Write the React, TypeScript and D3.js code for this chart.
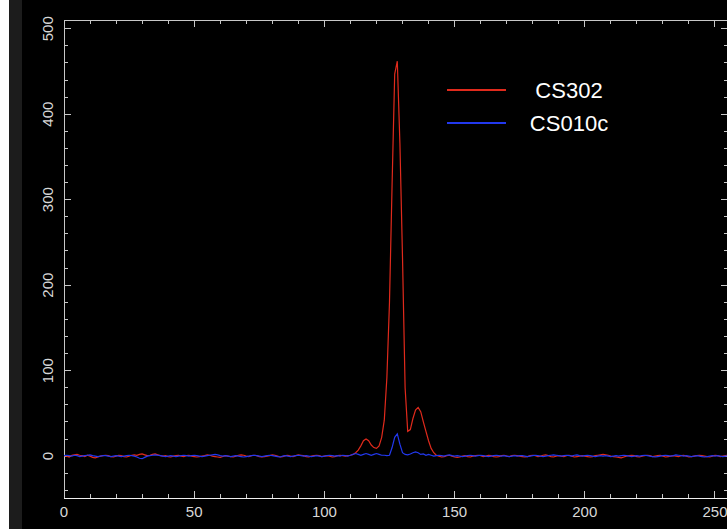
import React from "react";
import * as d3 from "d3";

// Channel counts per bin (bins 0..255)
const cs302: number[] = [
  0.5, 0, -1, 1, 1.5, 2, 1, 0.5, -0.5, 1, 0, -1.5, -2, -1, 0, 0.5,
  1, 0.5, -0.5, -1, 0, 1, 0.5, -0.5, -1, 0, 1, 1.5, 1, 2, 2.5, 1.5,
  0.5, 1, 2, 2.5, 1.5, 0.5, 0, 0.5, -0.5, -1, 0, 0.5, 1, 0, -0.5, 0.5,
  1, 0, -0.5, -1, -0.5, 0, 0.5, 1.5, 1, 0, -0.5, -1, -1.5, -0.5, 0.5, 0,
  -0.5, -1, 0, 1, 1.5, 1, 0, -0.5, 0.5, 1, 0.5, -0.5, -1, -0.5, 0, 0.5,
  1.5, 1, 0, -1, -0.5, 0.5, 1, 0, -0.5, 0.5, 1.5, 1, 0.5, -0.5, -1, 0,
  0.5, 1, 0.5, -0.5, 0, 0.5, 0, -1, -0.5, 0.5, 1, 0.5, 0, 0.5, 1, 2,
  4, 7, 12, 18, 20, 18, 13, 10, 9, 12, 22, 42, 92, 180, 318, 447,
  462, 366, 232, 80, 29, 31, 44, 54, 57, 52, 40, 29, 18, 9, 4, 1,
  0, -1, -0.5, 0.5, 1, 0, -1, -1.5, -1, 0, 0.5, -0.5, -1, 0, 0.5, 1,
  0.5, -0.5, 0, 1, 0.5, -0.5, -1, -0.5, 0.5, 1, 0, -0.5, 0.5, 1, 0.5, 0,
  -0.5, -1, -0.5, 0.5, 1, 0.5, -0.5, 0, 1, 1.5, 0.5, -0.5, -1, 0, 0.5, 0,
  -0.5, 0.5, 1, 0, -1, -0.5, 0, 0.5, 0, -0.5, -1, -0.5, 0.5, 1, 1.5, 2,
  1.5, 1, 0, -0.5, -1, -1.5, -2, -1, 0, 0.5, 1, 0.5, -0.5, -1, 0, 0.5,
  1, 0.5, -0.5, 0, 0.5, 1, 0, -1, -0.5, 0, 0.5, 0, -0.5, 0.5, 1, 0,
  -1, -0.5, 0, 0.5, 1, 0.5, 0, -0.5, -1, 0, 1, 0.5, -0.5, 0, 0.5, 1,
];

const cs010c: number[] = [
  0.5, 1, 0.5, 0, 1, 0.5, -0.5, 0, 0.5, 1, 1.5, 0.5, 0, -0.5, 0, 0.5,
  0.5, 0, -0.5, 0, 0.5, 0, -0.5, 0, 0.5, 1, 0.5, 0, -1, -2.5, -3, -1.5,
  0, 0.5, 1, 1.5, 1, 0.5, 0, -0.5, 0, 0.5, 0, -0.5, 0, 0.5, 1, 0.5,
  0, 0.5, 1, 0.5, 0, -0.5, 0, 0.5, 1, 1.5, 2, 1.5, 0.5, 0, 0.5, 0,
  -0.5, 0, 0.5, 0, -0.5, -1, -0.5, 0, 0.5, 1, 0.5, 0, -0.5, 0, 0.5, 1,
  0.5, 0, -0.5, -1, 0, 0.5, 0, -0.5, 0, 0.5, 1, 0.5, 0, 0.5, 0, -0.5,
  0, 0.5, 0, -0.5, 0, 0.5, 1, 0.5, 0, 0.5, 0, 1, 0.5, 0, 1, 2,
  3, 2, 1, 2, 3, 2, 1, 2, 3, 2, 1, 1, 0.5, 1, 10, 22,
  26, 14, 4, 2, 1.5, 2.5, 4, 5, 4, 2, 2.5, 1, 2, 1, 0, 0.5,
  1, 0.5, 0, 1, 1.5, 0.5, 0, 0.5, 0, -0.5, 0, 0.5, 1, 0.5, 0, 0.5,
  1, 0.5, 0, -0.5, 0, 0.5, 1, 0.5, 0, 0.5, 0, -0.5, 0, 0.5, 0, 0.5,
  0.5, 0, -0.5, 0, 0.5, 1, 0.5, 0, -0.5, 0, 0.5, 1, 1.5, 1, 0.5, 0,
  0.5, 1, 0.5, 0, 1, 1.5, 0.5, 0, 0.5, 1, 0.5, 0, -0.5, 0, 0.5, 0,
  0.5, 0, -0.5, 0, 0.5, 0, 0.5, 1, 0.5, 0, -0.5, 0, 0.5, 0, 0.5, 1,
  0.5, 0, -0.5, -1, -0.5, 0, 0.5, 1, 0.5, 0, 0.5, 1.5, 1, 0.5, 0, 0.5,
  0, -0.5, 0, 0.5, 0, -0.5, -1, -0.5, 0, 0.5, 0, 0.5, 0, -0.5, 0, 0.5,
];

const seriesNames = ["CS302", "CS010c"];
const seriesColors = ["#e02a1c", "#2238ee"];
const xMajorTicks = [0, 50, 100, 150, 200, 250];
const yMajorTicks = [0, 100, 200, 300, 400, 500];

const W = 727;
const H = 529;
const left = 64;
const right = 728;
const top = 20;
const bottom = 498;

export default function App() {
  const x = d3.scaleLinear().domain([0, 255]).range([left, right]);
  const y = d3.scaleLinear().domain([-49, 510.2]).range([bottom, top]);

  const line = d3
    .line<number>()
    .x((_, i) => x(i))
    .y((d) => y(d));

  const xMinor = d3.range(0, 256, 10).filter((v) => v % 50 !== 0);
  const yMinor = d3.range(-40, 511, 20).filter((v) => v % 100 !== 0);

  const axisColor = "#c8c8c8";
  const labelFont = "'Liberation Sans', Arial, sans-serif";

  return (
    <svg
      width={W}
      height={H}
      style={{ position: "fixed", left: 0, top: 0, display: "block" }}
    >
      <rect x={0} y={0} width={W} height={H} fill="#000" />
      <rect x={0} y={0} width={9} height={H} fill="#fff" />
      <rect x={9} y={0} width={13} height={H} fill="#1c1c1c" />

      {/* frame */}
      <g stroke={axisColor} strokeWidth={1} fill="none" shapeRendering="crispEdges">
        <line x1={left} y1={top} x2={right} y2={top} />
        <line x1={left} y1={top} x2={left} y2={bottom} />
        <line x1={right} y1={top} x2={right} y2={bottom} />
        <line x1={left} y1={bottom} x2={right} y2={bottom} stroke="#f0f0f0" />

        {xMajorTicks.map((v) => (
          <g key={"xm" + v}>
            <line x1={x(v)} x2={x(v)} y1={bottom} y2={bottom - 7} />
            <line x1={x(v)} x2={x(v)} y1={top} y2={top + 7} />
          </g>
        ))}
        {xMinor.map((v) => (
          <g key={"xn" + v}>
            <line x1={x(v)} x2={x(v)} y1={bottom} y2={bottom - 4} />
            <line x1={x(v)} x2={x(v)} y1={top} y2={top + 4} />
          </g>
        ))}
        {yMajorTicks.map((v) => (
          <g key={"ym" + v}>
            <line x1={left} x2={left + 7} y1={y(v)} y2={y(v)} />
            <line x1={right} x2={right - 7} y1={y(v)} y2={y(v)} />
          </g>
        ))}
        {yMinor.map((v) => (
          <g key={"yn" + v}>
            <line x1={left} x2={left + 4} y1={y(v)} y2={y(v)} />
            <line x1={right} x2={right - 4} y1={y(v)} y2={y(v)} />
          </g>
        ))}
      </g>

      {/* tick labels */}
      <g fill="#d8d8d8" fontFamily={labelFont} fontSize={15}>
        {xMajorTicks.map((v) => (
          <text key={"xl" + v} x={x(v)} y={517} textAnchor="middle">
            {v}
          </text>
        ))}
        {yMajorTicks.map((v) => (
          <text
            key={"yl" + v}
            transform={`translate(53, ${y(v)}) rotate(-90)`}
            textAnchor="middle"
          >
            {v}
          </text>
        ))}
      </g>

      {/* spectra */}
      <path d={line(cs302) ?? ""} fill="none" stroke={seriesColors[0]} strokeWidth={1.2} />
      <path d={line(cs010c) ?? ""} fill="none" stroke={seriesColors[1]} strokeWidth={1.2} />

      {/* legend */}
      <g fontFamily={labelFont} fontSize={22} fill="#fff">
        {seriesNames.map((name, i) => (
          <g key={name}>
            <line
              x1={447}
              x2={506}
              y1={90 + i * 33}
              y2={90 + i * 33}
              stroke={seriesColors[i]}
              strokeWidth={2}
            />
            <text x={569} y={98 + i * 33} textAnchor="middle">
              {name}
            </text>
          </g>
        ))}
      </g>
    </svg>
  );
}
